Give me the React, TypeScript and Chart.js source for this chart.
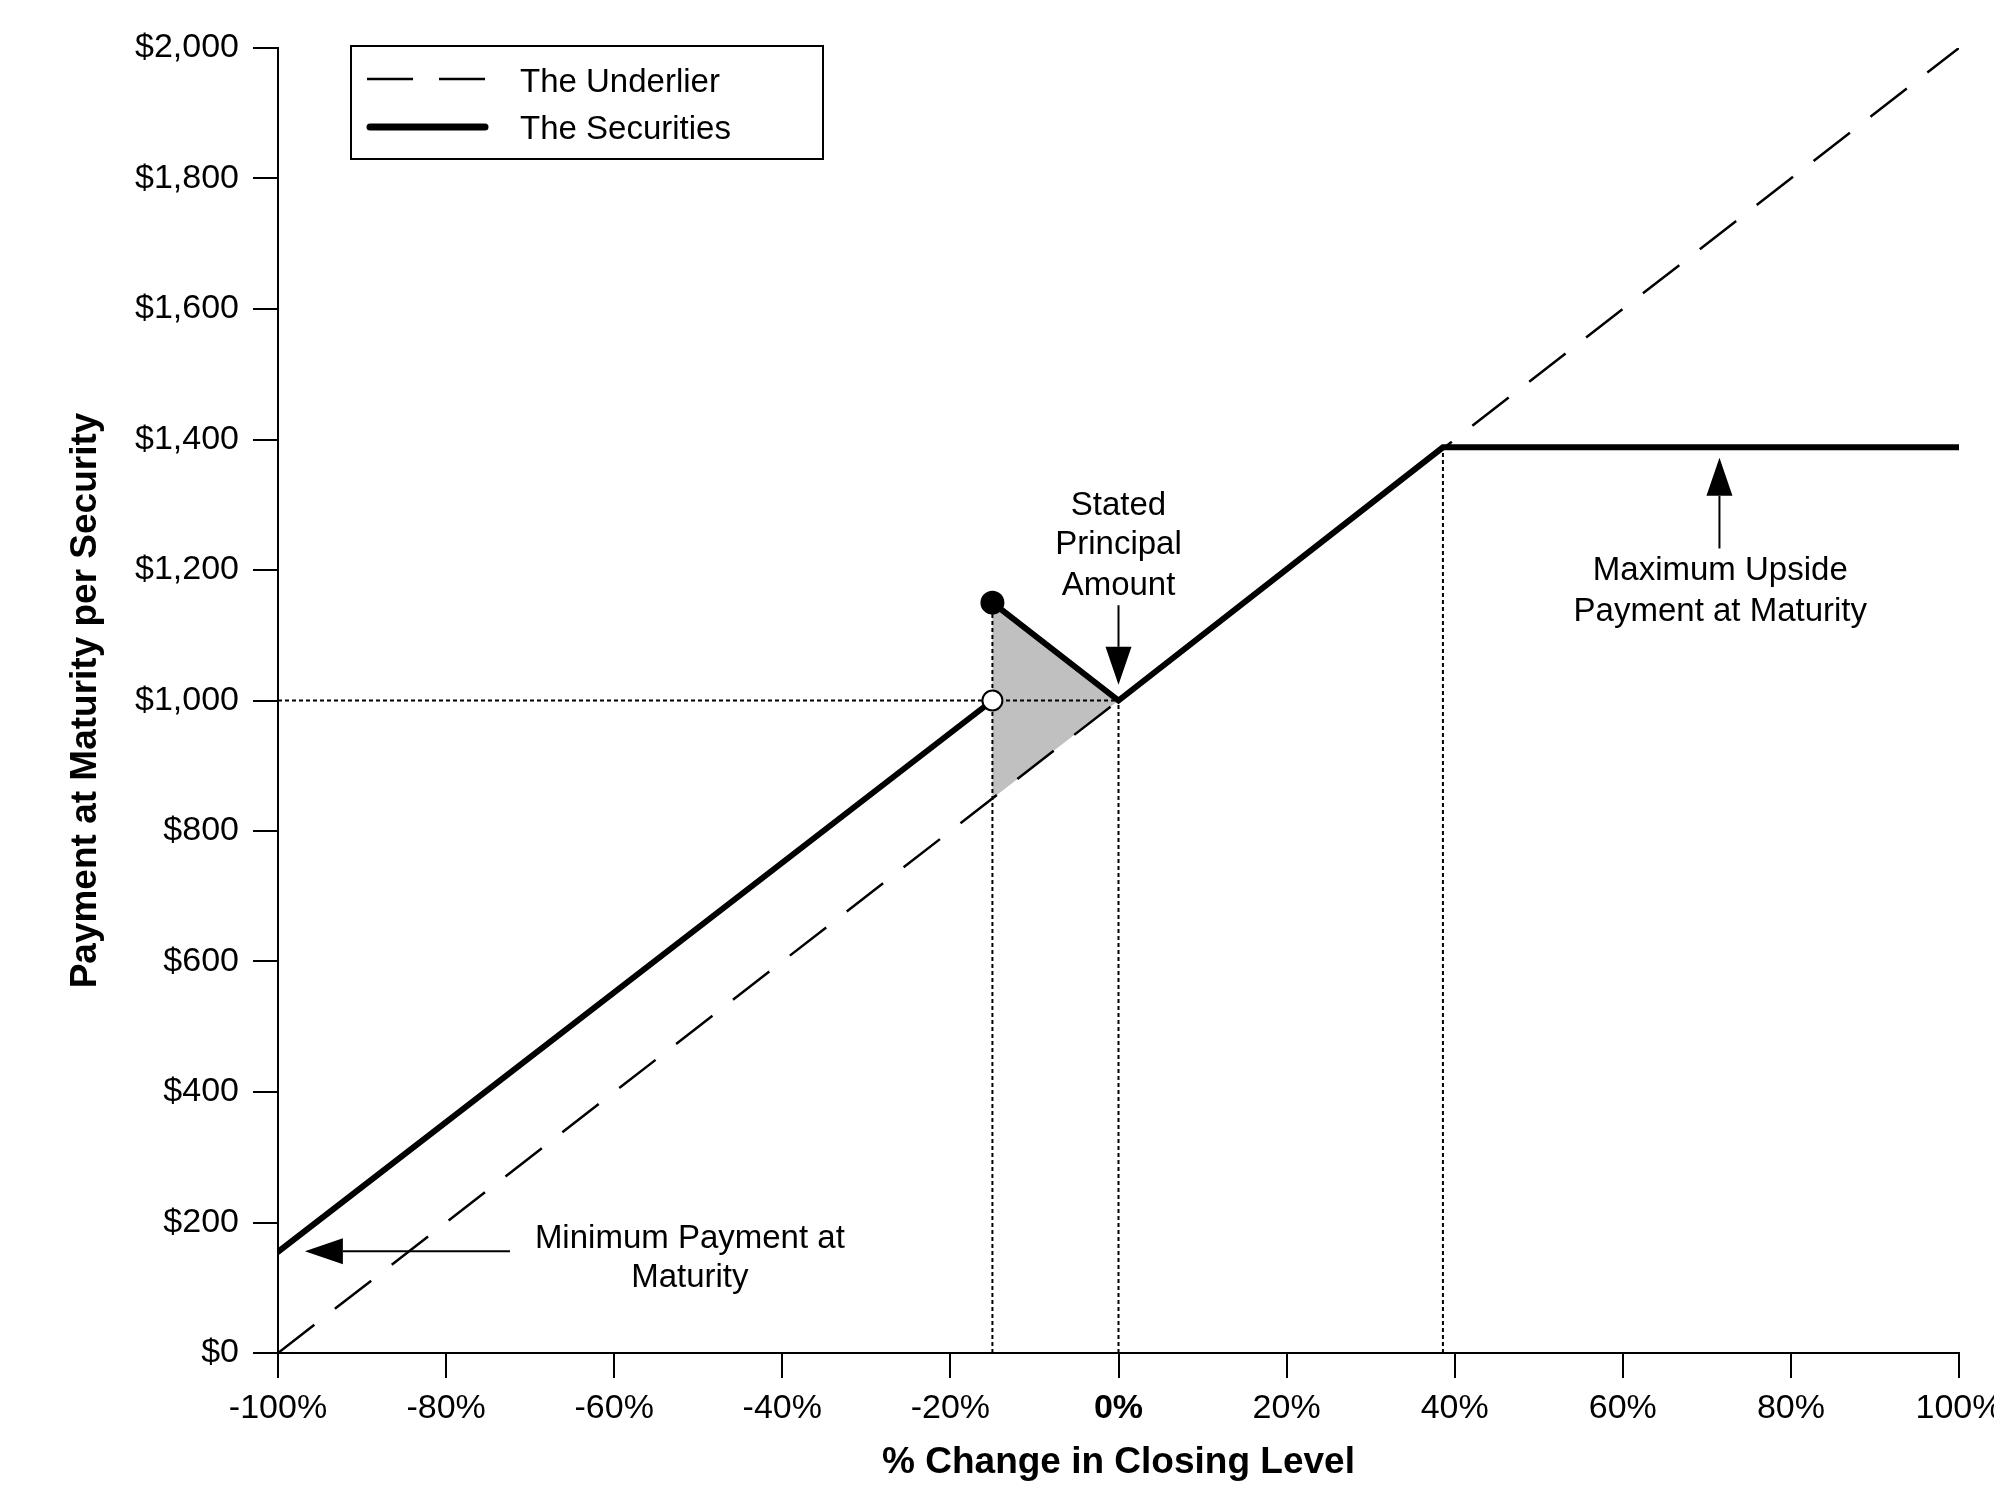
import { useEffect, useRef } from "react";
import { Chart, registerables, type Plugin } from "chart.js";

Chart.register(...registerables);

const FONT = "'Liberation Sans', Arial, sans-serif";

// Achsen
const xTicks = [-100, -80, -60, -40, -20, 0, 20, 40, 60, 80, 100];
const yTicks = [0, 200, 400, 600, 800, 1000, 1200, 1400, 1600, 1800, 2000];

// Underlier: 1:1 zur Kursänderung
const underlierX = [-100, 100];
const underlierY = [0, 2000];

// Securities: unterhalb des Buffers, dann absolute Rendite bis 0 %, dann Cap
const securitiesLowX = [-100, -15];
const securitiesLowY = [155, 1000];
const securitiesHighX = [-15, 0, 38.6, 100];
const securitiesHighY = [1150, 1000, 1388, 1388];

// graues Dreieck zwischen Securities und Underlier
const shadeX = [-15, 0, -15];
const shadeY = [1150, 1000, 850];

// gepunktete Hilfslinien [x1, y1, x2, y2]
const guideLines = [
  [-100, 1000, 0, 1000],
  [-15, 0, -15, 1150],
  [0, 0, 0, 1000],
  [38.6, 0, 38.6, 1388],
];

const closedDot = { x: -15, y: 1150 };
const openDot = { x: -15, y: 1000 };

// Beschriftungen in Datenkoordinaten
const noteText = [
  ["Stated", "Principal", "Amount"],
  ["Maximum Upside", "Payment at Maturity"],
  ["Minimum Payment at", "Maturity"],
];
const noteX = [0, 71.6, -51];
const noteY = [
  [1298, 1238, 1175],
  [1198, 1136],
  [175, 115],
];
// Pfeile [x1, y1, x2 (Spitze), y2 (Spitze)]
const arrows = [
  [0, 1146, 0, 1024],
  [71.5, 1233, 71.5, 1372],
  [-72.4, 156, -96.8, 156],
];

const pts = (xs: number[], ys: number[]) => xs.map((x, i) => ({ x, y: ys[i] }));

function drawArrow(ctx: CanvasRenderingContext2D, x1: number, y1: number, x2: number, y2: number) {
  const ang = Math.atan2(y2 - y1, x2 - x1);
  const len = 38;
  const half = 13;
  const bx = x2 - len * Math.cos(ang);
  const by = y2 - len * Math.sin(ang);
  ctx.lineWidth = 2;
  ctx.beginPath();
  ctx.moveTo(x1, y1);
  ctx.lineTo(bx, by);
  ctx.stroke();
  ctx.beginPath();
  ctx.moveTo(x2, y2);
  ctx.lineTo(bx - half * Math.sin(ang), by + half * Math.cos(ang));
  ctx.lineTo(bx + half * Math.sin(ang), by - half * Math.cos(ang));
  ctx.closePath();
  ctx.fill();
}

const overlay: Plugin<"scatter"> = {
  id: "overlay",
  afterDatasetsDraw(chart) {
    const { ctx, chartArea: a } = chart;
    const sx = chart.scales.x;
    const sy = chart.scales.y;
    ctx.save();
    ctx.fillStyle = "#000";
    ctx.strokeStyle = "#000";
    ctx.font = `33px ${FONT}`;
    ctx.textAlign = "center";
    ctx.textBaseline = "middle";
    noteText.forEach((lines, n) =>
      lines.forEach((t, i) =>
        ctx.fillText(t, sx.getPixelForValue(noteX[n]), sy.getPixelForValue(noteY[n][i]))
      )
    );
    for (const [x1, y1, x2, y2] of arrows) {
      drawArrow(ctx, sx.getPixelForValue(x1), sy.getPixelForValue(y1), sx.getPixelForValue(x2), sy.getPixelForValue(y2));
    }

    // Legende
    const lx = a.left + 73;
    const ly = a.top - 2;
    ctx.lineWidth = 2;
    ctx.strokeRect(lx, ly, 472, 113);
    ctx.beginPath();
    ctx.lineWidth = 2.5;
    ctx.setLineDash([46, 26]);
    ctx.moveTo(lx + 16, ly + 33);
    ctx.lineTo(lx + 137, ly + 33);
    ctx.stroke();
    ctx.setLineDash([]);
    ctx.beginPath();
    ctx.lineWidth = 7;
    ctx.lineCap = "round";
    ctx.moveTo(lx + 19, ly + 81);
    ctx.lineTo(lx + 134, ly + 81);
    ctx.stroke();
    ctx.textAlign = "left";
    ctx.fillText("The Underlier", lx + 169, ly + 37);
    ctx.fillText("The Securities", lx + 169, ly + 84);
    ctx.restore();
  },
};

export default function App() {
  const ref = useRef<HTMLCanvasElement>(null);

  useEffect(() => {
    if (!ref.current) return;
    const line = { showLine: true, pointRadius: 0, pointHoverRadius: 0, borderColor: "#000" };
    const chart = new Chart(ref.current, {
      type: "scatter",
      data: {
        datasets: [
          {
            ...line,
            data: pts(shadeX, shadeY),
            borderWidth: 0,
            backgroundColor: "#c0c0c0",
            fill: "shape",
            order: 10,
          },
          ...guideLines.map(([x1, y1, x2, y2]) => ({
            ...line,
            data: [{ x: x1, y: y1 }, { x: x2, y: y2 }],
            borderWidth: 2,
            borderDash: [4, 3],
            order: 8,
          })),
          {
            ...line,
            data: pts(underlierX, underlierY),
            borderWidth: 2.5,
            borderDash: [46, 26],
            order: 6,
          },
          {
            ...line,
            data: pts(securitiesLowX, securitiesLowY),
            borderWidth: 6,
            borderCapStyle: "round",
            order: 4,
          },
          {
            ...line,
            data: pts(securitiesHighX, securitiesHighY),
            borderWidth: 6,
            borderCapStyle: "round",
            borderJoinStyle: "miter",
            order: 4,
          },
          {
            data: [openDot],
            pointRadius: 10,
            pointBackgroundColor: "#fff",
            pointBorderColor: "#000",
            pointBorderWidth: 2,
            order: 2,
          },
          {
            data: [closedDot],
            pointRadius: 12,
            pointBackgroundColor: "#000",
            pointBorderColor: "#000",
            pointBorderWidth: 0,
            order: 1,
          },
        ] as any,
      },
      options: {
        animation: false,
        responsive: true,
        maintainAspectRatio: false,
        devicePixelRatio: 1,
        events: [],
        layout: { padding: { top: 48, right: 35, left: 0, bottom: 0 } },
        plugins: { legend: { display: false }, tooltip: { enabled: false } },
        scales: {
          x: {
            type: "linear",
            min: -100,
            max: 100,
            afterBuildTicks: (s) => {
              s.ticks = xTicks.map((value) => ({ value }));
            },
            afterFit: (s) => {
              s.height = 157;
              s.paddingLeft = 0;
              s.paddingRight = 0;
            },
            border: { display: true, color: "#000", width: 2 },
            grid: { display: true, drawOnChartArea: false, drawTicks: true, tickLength: 25, color: "#000", lineWidth: 2 },
            ticks: {
              color: "#000",
              padding: 10,
              maxRotation: 0,
              autoSkip: false,
              font: (c: any) => ({ family: FONT, size: 34, weight: c.tick && c.tick.value === 0 ? "bold" : "normal" }),
              callback: (v) => `${v}%`,
            },
            title: {
              display: true,
              text: "% Change in Closing Level",
              color: "#000",
              font: { family: FONT, size: 37, weight: "bold" },
              padding: { top: 0, bottom: 25 },
            },
          },
          y: {
            type: "linear",
            min: 0,
            max: 2000,
            afterBuildTicks: (s) => {
              s.ticks = yTicks.map((value) => ({ value }));
            },
            afterFit: (s) => {
              s.width = 278;
              s.paddingTop = 0;
              s.paddingBottom = 0;
            },
            border: { display: true, color: "#000", width: 2 },
            grid: { display: true, drawOnChartArea: false, drawTicks: true, tickLength: 25, color: "#000", lineWidth: 2 },
            ticks: {
              color: "#000",
              padding: 14,
              autoSkip: false,
              font: { family: FONT, size: 34 },
              callback: (v) => "$" + Number(v).toLocaleString("en-US"),
            },
            title: {
              display: true,
              text: "Payment at Maturity per Security",
              color: "#000",
              font: { family: FONT, size: 37, weight: "bold" },
              padding: { top: 64, bottom: 0 },
            },
          },
        },
      },
      plugins: [overlay],
    });
    return () => chart.destroy();
  }, []);

  return (
    <div style={{ position: "absolute", left: 0, top: 0, width: 1994, height: 1510, background: "#fff" }}>
      <canvas ref={ref} />
    </div>
  );
}
